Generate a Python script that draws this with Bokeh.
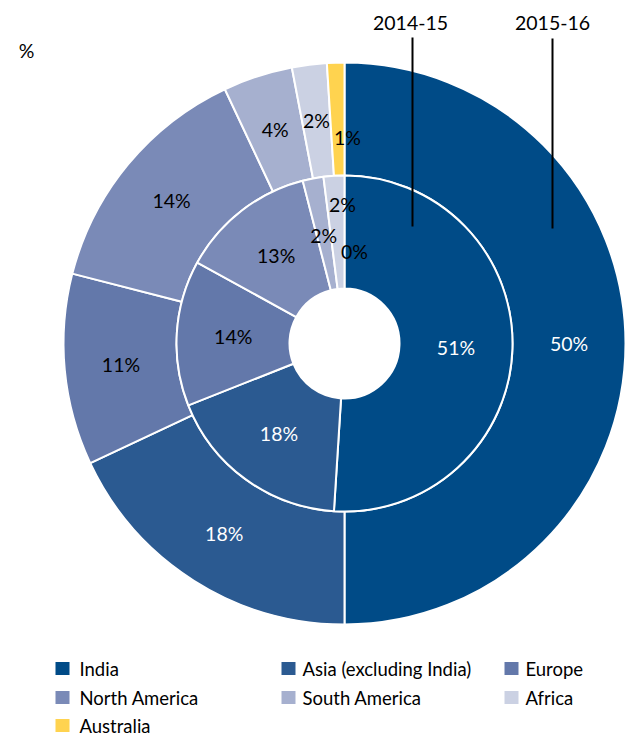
import math
from bokeh.plotting import figure
from bokeh.models import Range1d, ColumnDataSource
from bokeh.core.properties import value
from bokeh.embed import file_html
from bokeh.resources import INLINE

regions = ["India", "Asia (excluding India)", "Europe", "North America",
           "South America", "Africa", "Australia"]
share_2014_15 = [51, 18, 14, 13, 2, 2, 0]
share_2015_16 = [50, 18, 11, 14, 4, 2, 1]
series_names = ["2014-15", "2015-16"]

colors = ["#004B87", "#2B5A91", "#6378AA", "#7A8AB7", "#A6B0CF", "#CBD1E3", "#FFD34F"]
label_colors = ["white", "white", "black", "black", "black", "black", "black"]
FONT = "Lato"

W, H = 630, 738
p = figure(width=W, height=H, output_backend="svg", toolbar_location=None,
           x_range=Range1d(0, W), y_range=Range1d(0, H),
           min_border=0, outline_line_color=None)
p.axis.visible = False
p.grid.visible = False
p.background_fill_color = "white"
p.border_fill_color = "white"

def Y(ypix):
    return H - ypix

cx, cy = 344, Y(343)
r_hole, r_mid, r_out = 55, 168, 281

# label nudges (pixel offsets dx, dy-down) for crowded small slices
nudge_inner = {4: (0, 2), 5: (5, -28), 6: (10, 19)}
nudge_outer = {6: (10, 18)}

def ring(values, r0, r1, nudges):
    total = float(sum(values))
    starts, ends, cols = [], [], []
    lx, ly, lt, lc = [], [], [], []
    cum = 0.0
    rl = (r0 + r1) / 2.0
    for i, v in enumerate(values):
        a = cum / total
        b = (cum + v) / total
        cum += v
        if v > 0:
            starts.append(math.pi / 2 - 2 * math.pi * a)
            ends.append(math.pi / 2 - 2 * math.pi * b)
            cols.append(colors[i])
        mid = (a + b) / 2 * 2 * math.pi
        dx, dy = nudges.get(i, (0, 0))
        lx.append(cx + rl * math.sin(mid) + dx)
        ly.append(cy + rl * math.cos(mid) - dy)
        lt.append(f"{v}%")
        lc.append(label_colors[i])
    src = ColumnDataSource(dict(start=starts, end=ends, color=cols))
    p.annular_wedge(x=cx, y=cy, inner_radius=r0, outer_radius=r1,
                    start_angle="start", end_angle="end", direction="clock",
                    fill_color="color", line_color="white", line_width=2, source=src)
    return lx, ly, lt, lc

o = ring(share_2015_16, r_mid, r_out, nudge_outer)
i_ = ring(share_2014_15, r_hole, r_mid, nudge_inner)
for lx, ly, lt, lc in (o, i_):
    lsrc = ColumnDataSource(dict(x=lx, y=ly, t=lt, c=lc))
    p.text(x="x", y="y", text="t", text_color="c", text_align="center",
           text_baseline="middle", text_font=value(FONT), text_font_size="19.5px",
           source=lsrc)

# series callouts
p.segment(x0=[412, 552], y0=[Y(37), Y(38)], x1=[412, 552], y1=[Y(226), Y(228)],
          line_color="black", line_width=2)
p.text(x=[410, 552], y=[Y(22), Y(22)], text=series_names, text_align="center",
       text_baseline="middle", text_font=value(FONT), text_font_size="19.5px",
       text_color="black")

p.text(x=[26], y=[Y(50)], text=["%"], text_align="center", text_baseline="middle",
       text_font=value(FONT), text_font_size="19.5px", text_color="black")

# legend
sq_x = [62, 288, 511]
txt_x = [79, 302, 525]
row_y = [668, 697, 725]
sx, sy, tx, ty = [], [], [], []
for k, name in enumerate(regions):
    r, c = divmod(k, 3)
    sx.append(sq_x[c]); sy.append(Y(row_y[r]))
    tx.append(txt_x[c]); ty.append(Y(row_y[r]))
p.rect(x=sx, y=sy, width=14, height=13, fill_color=colors, line_color=None)
p.text(x=tx, y=ty, text=regions, text_align="left", text_baseline="middle",
       text_font=value(FONT), text_font_size="18.5px", text_color="black")

open("out.html", "w").write(file_html(p, INLINE))
